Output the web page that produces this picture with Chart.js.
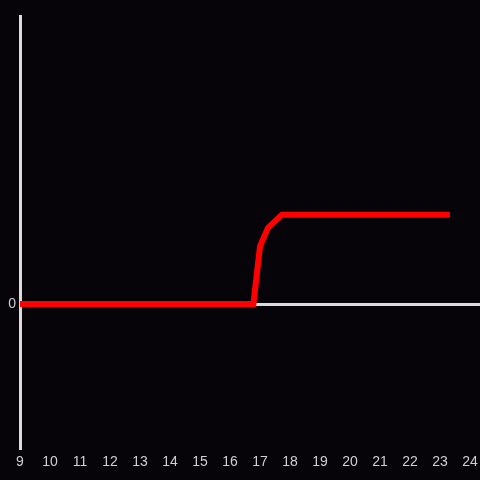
<!DOCTYPE html>
<html lang="en">
<head>
    <meta charset="UTF-8">
    <script src="https://cdn.jsdelivr.net/npm/chart.js"></script>
    <title>Chart</title>
    <style>
        html, body { margin: 0; padding: 0; background: #060408; }
        canvas { display: block; }
    </style>
</head>
<body>

<canvas id="myChart" width="480" height="480"></canvas>

<script>
    // values
    const hours = [9, 16.78, 17.0, 17.27, 17.73, 23.33];
    const values = [0, 0, 0.40, 0.53, 0.62, 0.62];
    const xTicks = [9, 10, 11, 12, 13, 14, 15, 16, 17, 18, 19, 20, 21, 22, 23, 24];
    const yTicks = [0];

    const points = hours.map((h, i) => ({x: h, y: values[i]}));

    const bgPlugin = {
        id: 'bg',
        beforeDraw: (chart) => {
            const {ctx} = chart;
            ctx.save();
            ctx.fillStyle = '#060408';
            ctx.fillRect(0, 0, chart.width, chart.height);
            ctx.restore();
        }
    };

    const ctx = document.getElementById('myChart').getContext('2d');

    new Chart(ctx, {
        type: 'scatter',
        data: {
            datasets: [{
                data: points,
                showLine: true,
                borderColor: '#ff0000',
                backgroundColor: '#ff0000',
                borderWidth: 6,
                pointRadius: 0,
                tension: 0,
                borderCapStyle: 'butt',
                borderJoinStyle: 'miter'
            }]
        },
        options: {
            responsive: false,
            animation: false,
            layout: {padding: {top: 16, right: 0, left: 0, bottom: 0}},
            plugins: {
                legend: {display: false},
                tooltip: {enabled: false}
            },
            scales: {
                x: {
                    type: 'linear',
                    min: 9,
                    max: 24 + 1 / 3,
                    afterBuildTicks: (scale) => {
                        scale.ticks = xTicks.map(v => ({value: v}));
                    },
                    afterFit: (scale) => {
                        scale.height = 32;
                        scale.paddingLeft = 0;
                        scale.paddingRight = 0;
                    },
                    grid: {display: false, drawTicks: false},
                    border: {display: false},
                    ticks: {
                        color: '#d0d0d0',
                        padding: 6,
                        maxRotation: 0,
                        autoSkip: false,
                        font: {family: 'Liberation Sans', size: 14}
                    }
                },
                y: {
                    min: -1,
                    max: 2,
                    afterBuildTicks: (scale) => {
                        scale.ticks = yTicks.map(v => ({value: v}));
                    },
                    afterFit: (scale) => { scale.width = 20; },
                    grid: {
                        drawTicks: false,
                        color: '#dcdcdc',
                        lineWidth: 3
                    },
                    border: {display: true, color: '#dcdcdc', width: 3},
                    ticks: {
                        color: '#d0d0d0',
                        padding: 4,
                        font: {family: 'Liberation Sans', size: 14}
                    }
                }
            }
        },
        plugins: [bgPlugin]
    });
</script>

</body>
</html>
